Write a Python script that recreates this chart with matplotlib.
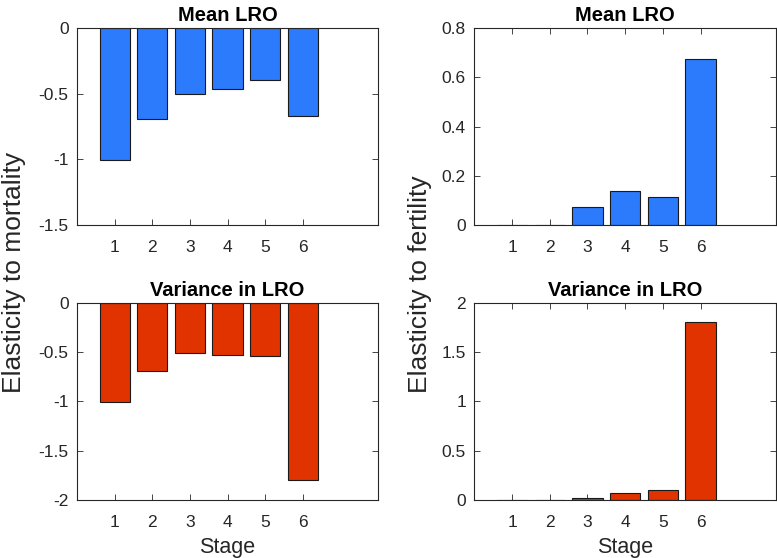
import matplotlib
matplotlib.use("Agg")
import matplotlib.pyplot as plt

plt.rcParams['font.family'] = ['Liberation Sans', 'DejaVu Sans']

stages = [1, 2, 3, 4, 5, 6]
mort_mean = [-1.008, -0.695, -0.500, -0.462, -0.393, -0.667]
fert_mean = [0.0, 0.0, 0.0735, 0.139, 0.114, 0.675]
mort_var = [-1.010, -0.696, -0.507, -0.530, -0.537, -1.800]
fert_var = [0.0, 0.0, 0.017, 0.068, 0.105, 1.804]

blue = '#2b7bfc'
red = '#e03300'
dark = '#262626'

W, H = 777, 558
fig = plt.figure(figsize=(W / 100, H / 100), dpi=100)

def rect(l, r, t, b):
    return [l / W, 1 - b / H, (r - l) / W, (b - t) / H]

axes_specs = [
    (rect(77, 378, 28.3, 225), mort_mean, blue, 'Mean LRO', (-1.5, 0), [-1.5, -1, -0.5, 0], ['-1.5', '-1', '-0.5', '0'], False),
    (rect(474.3, 776, 28.3, 225), fert_mean, blue, 'Mean LRO', (0, 0.8), [0, 0.2, 0.4, 0.6, 0.8], ['0', '0.2', '0.4', '0.6', '0.8'], False),
    (rect(77, 378, 302.7, 500), mort_var, red, 'Variance in LRO', (-2, 0), [-2, -1.5, -1, -0.5, 0], ['-2', '-1.5', '-1', '-0.5', '0'], True),
    (rect(474.3, 776, 302.7, 500), fert_var, red, 'Variance in LRO', (0, 2), [0, 0.5, 1, 1.5, 2], ['0', '0.5', '1', '1.5', '2'], True),
]

for pos, vals, col, title, ylim, yt, ytl, xl in axes_specs:
    ax = fig.add_axes(pos)
    ax.bar(stages, vals, width=0.8, color=col, edgecolor='#1a1a1a', linewidth=0.8, zorder=2)
    ax.set_xlim(0, 8)
    ax.set_ylim(*ylim)
    ax.set_xticks(stages)
    ax.set_xticklabels([str(s) for s in stages])
    ax.set_yticks(yt)
    ax.set_yticklabels(ytl)
    ax.tick_params(direction='in', length=4, width=0.6, colors=dark, labelsize=12.5,
                   top=True, right=True, labelcolor=dark)
    ax.tick_params(axis='x', pad=11)
    ax.tick_params(axis='y', pad=6)
    for sp in ax.spines.values():
        sp.set_color(dark)
        sp.set_linewidth(0.8)
    ax.set_title(title, fontsize=14.5, fontweight='bold', color='black', pad=5)
    if xl:
        ax.set_xlabel('Stage', fontsize=15.5, color=dark, labelpad=5)

fig.text(14.5 / W, 1 - 393 / H, 'Elasticity to mortality', rotation=90, ha='center', va='bottom',
         fontsize=19, color=dark)
fig.text(420 / W, 1 - 393 / H, 'Elasticity to fertility', rotation=90, ha='center', va='bottom',
         fontsize=19, color=dark)

fig.savefig('out.png', dpi=100)
